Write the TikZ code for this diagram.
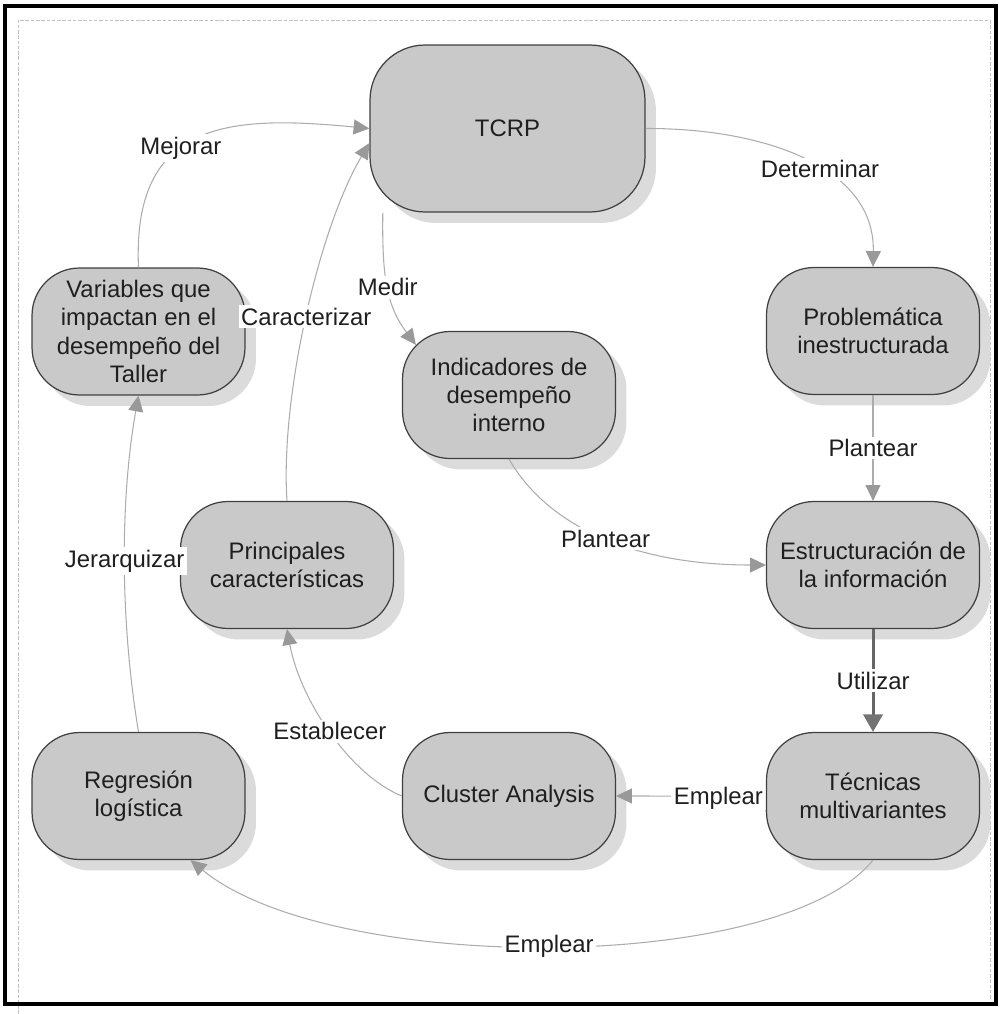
\documentclass[tikz,border=0pt]{standalone}
\usepackage{fontspec}
\setmainfont{Liberation Sans}
\usetikzlibrary{arrows.meta,shadows,calc}
\begin{document}
\begin{tikzpicture}[x=0.02cm,y=-0.02cm,
  box/.style={draw=black!75, line width=0.7pt, fill=gray!42, text=black!88,
    rounded corners=0.95cm, minimum width=4.26cm, minimum height=2.54cm,
    align=center, inner sep=2pt, font=\fontsize{13.6}{16}\selectfont,
    drop shadow={shadow xshift=0.22cm, shadow yshift=-0.22cm, fill=gray!28, opacity=1}},
  conn/.style={draw=gray!65, line width=0.6pt, -{Triangle[length=9pt,width=8.5pt,color=gray!80]}},
  thickconn/.style={draw=black!60, line width=1.7pt, -{Triangle[length=10pt,width=11pt,color=black!55]}},
  lbl/.style={fill=white, inner sep=1.5pt, text=black!88, font=\fontsize{13.6}{16}\selectfont}]
\useasboundingbox (0,0) rectangle (1003,1014);
% frames
\draw[gray!50, line width=0.5pt, dash pattern=on 2pt off 1pt] (18,1014) -- (18,20) -- (990,20) -- (990,1000);
\draw[black, line width=2.8pt] (5,6) rectangle (996,1004);
% nodes
\node[box, minimum width=5.5cm, minimum height=3.34cm, rounded corners=1.1cm] (tcrp) at (507.5,128.5) {TCRP};
\node[box] (var) at (138.5,331.5) {Variables que\\impactan en el\\desempeño del\\Taller};
\node[box] (ind) at (509,395) {Indicadores de\\desempeño\\interno};
\node[box] (prob) at (873,331) {Problemática\\inestructurada};
\node[box] (prin) at (287,565) {Principales\\características};
\node[box] (est) at (873,565) {Estructuración de\\la información};
\node[box] (reg) at (138.5,796) {Regresión\\logística};
\node[box] (clu) at (509,796) {Cluster Analysis};
\node[box] (tec) at (873,796) {Técnicas\\multivariantes};
% connectors
\draw[conn] (var.north) .. controls (132,120) and (230,115) .. node[lbl,pos=0.42]{Mejorar} (tcrp.west);
\draw[conn] (prin.north) .. controls (280,400) and (318,230) .. node[lbl,pos=0.5]{Caracterizar} (tcrp.186);
\draw[conn] (tcrp.214) .. controls (382,275) and (386,305) .. node[lbl]{Medir} ($(ind.north west)+(14,14)$);
\draw[conn] (tcrp.east) .. controls (760,128) and (875,165) .. node[lbl,pos=0.57]{Determinar} (prob.north);
\draw[conn] (prob.south) -- node[lbl]{Plantear} (est.north);
\draw[conn] (ind.south) .. controls (550,530) and (640,565) .. node[lbl]{Plantear} (est.west);
\draw[thickconn] (est.south) -- node[lbl]{Utilizar} (tec.north);
\draw[conn] ($(tec.west)+(0,15)$) .. controls (745,796) and (690,796) .. node[lbl,pos=0.45]{Emplear} (clu.east);
\draw[conn] (clu.west) .. controls (350,775) and (300,700) .. node[lbl]{Establecer} (prin.south);
\draw[conn] (reg.north) .. controls (120,620) and (120,500) .. node[lbl]{Jerarquizar} (var.south);
\draw[conn] (tec.south) .. controls (780,975) and (330,975) .. node[lbl]{Emplear} ($(reg.south)+(52,0)$);
\end{tikzpicture}
\end{document}
